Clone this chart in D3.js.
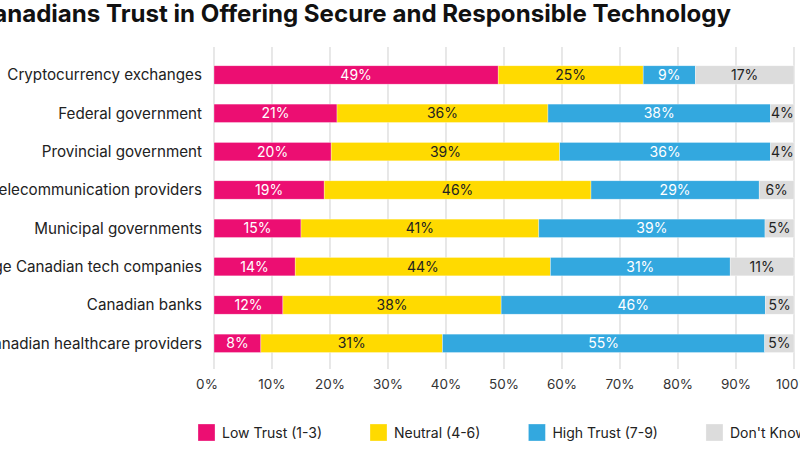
<!DOCTYPE html>
<html><head><meta charset="utf-8">
<script src="https://cdn.jsdelivr.net/npm/d3@7"></script>
<style>body{margin:0;background:#fff;overflow:hidden} svg{display:block}</style>
</head><body><svg id="c" width="800" height="450"></svg>
<script>
const categories = ["Cryptocurrency exchanges","Federal government","Provincial government","Telecommunication providers","Municipal governments","Large Canadian tech companies","Canadian banks","Canadian healthcare providers"];
const lowTrust  = [49,21,20,19,15,14,12,8];
const neutral   = [25,36,39,46,41,44,38,31];
const highTrust = [9,38,36,29,39,31,46,55];
const dontKnow  = [17,4,4,6,5,11,5,5];
const seriesKeys = ["low","neutral","high","dk"];
const seriesNames = ["Low Trust (1-3)","Neutral (4-6)","High Trust (7-9)","Don't Know"];
const tickValues = [0,0.1,0.2,0.3,0.4,0.5,0.6,0.7,0.8,0.9,1];
const title = "Canadians Trust in Offering Secure and Responsible Technology";

const colors = {low:"#EC0E72", neutral:"#FFDA00", high:"#33A8DF", dk:"#DCDCDC"};
const textColors = {low:"#ffffff", neutral:"#222222", high:"#ffffff", dk:"#222222"};
const FONT = "Inter, 'Liberation Sans', Arial, sans-serif";

const rows = categories.map((c,i)=>({cat:c, low:lowTrust[i], neutral:neutral[i], high:highTrust[i], dk:dontKnow[i]}));
const stacked = d3.stack().keys(seriesKeys).offset(d3.stackOffsetExpand)(rows);

const svg = d3.select("#c");
const x = d3.scaleLinear().domain([0,1]).range([214,794]);
const y = d3.scaleBand().domain(categories).range([55.8,362.5]).paddingInner(0.52).paddingOuter(0.26);

// title
svg.append("text").attr("x",731).attr("y",22).attr("text-anchor","end")
  .attr("font-family",FONT).attr("font-weight",700).attr("font-size",24.1).attr("fill","#111")
  .text(title);

// gridlines
svg.append("g").selectAll("line").data(tickValues).join("line")
  .attr("x1",d=>x(d)).attr("x2",d=>x(d)).attr("y1",47).attr("y2",369)
  .attr("stroke","#e2e2e2").attr("stroke-width",1.6);

// x tick labels
svg.append("g").selectAll("text").data(tickValues).join("text")
  .attr("x",d=>x(d)).attr("dx",(d,i)=>i===0?-7:0).attr("y",389).attr("text-anchor","middle")
  .attr("font-family",FONT).attr("font-size",13.5).attr("fill","#333")
  .text(d=>d3.format(".0%")(d));

// y labels
svg.append("g").selectAll("text").data(categories).join("text")
  .attr("x",202).attr("y",d=>y(d)+y.bandwidth()/2).attr("dy","0.35em").attr("text-anchor","end")
  .attr("font-family",FONT).attr("font-size",15.2).attr("fill","#222")
  .text(d=>d);

// bars
const layers = svg.append("g").selectAll("g").data(stacked).join("g")
  .attr("fill",s=>colors[s.key]);
layers.selectAll("rect").data(s=>s).join("rect")
  .attr("x",d=>x(d[0])).attr("width",d=>x(d[1])-x(d[0]))
  .attr("y",d=>y(d.data.cat)).attr("height",y.bandwidth())
  .attr("stroke","rgba(255,255,255,0.55)").attr("stroke-width",0.6);

// bar labels
const lab = svg.append("g");
stacked.forEach(s=>{
  lab.selectAll(null).data(s).join("text")
    .attr("x",d=>(x(d[0])+x(d[1]))/2).attr("y",d=>y(d.data.cat)+y.bandwidth()/2).attr("dy","0.36em")
    .attr("text-anchor","middle").attr("font-family",FONT).attr("font-size",14)
    .attr("fill",textColors[s.key])
    .text(d=>d.data[s.key]+"%");
});

// legend
const leg = svg.append("g");
let lx = 198;
seriesKeys.forEach((k,i)=>{
  leg.append("rect").attr("x",lx).attr("y",424).attr("width",17).attr("height",17).attr("fill",colors[k])
    .attr("stroke","rgba(255,255,255,0.5)").attr("stroke-width",0.6);
  const t = leg.append("text").attr("x",lx+24).attr("y",433).attr("dy","0.35em")
    .attr("font-family",FONT).attr("font-size",14).attr("fill","#222").text(seriesNames[i]);
  lx += 24 + t.node().getComputedTextLength() + 48;
});
</script></body></html>
